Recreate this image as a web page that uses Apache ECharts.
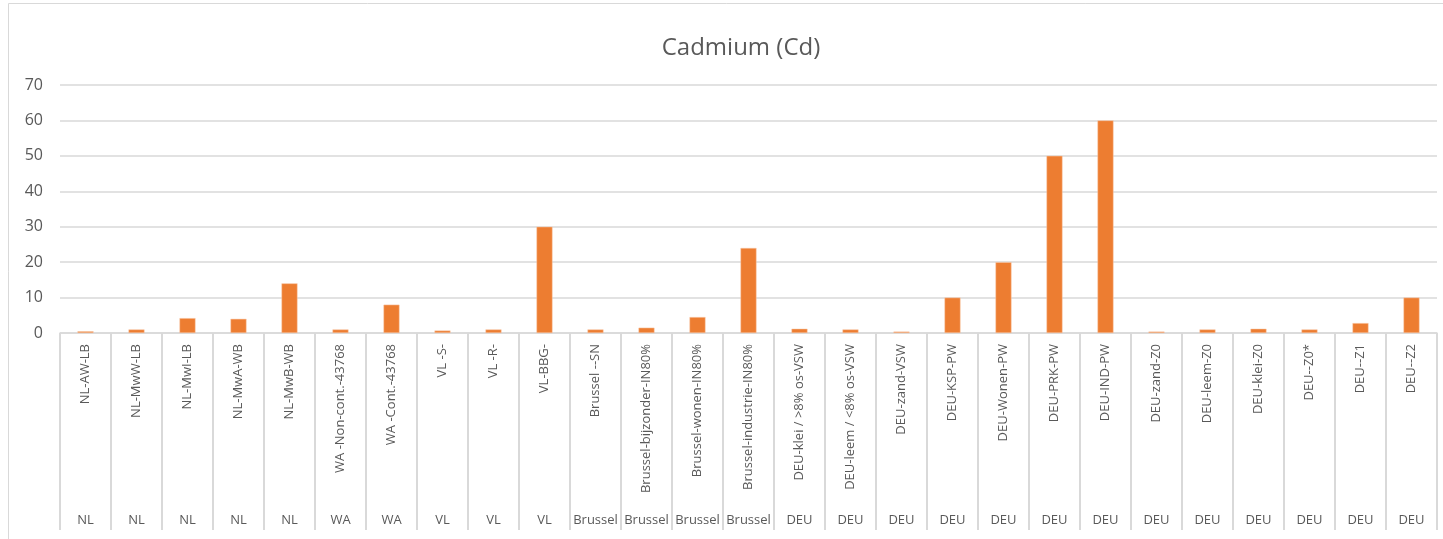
<!DOCTYPE html>
<html>
<head>
<meta charset="utf-8">
<title>Cadmium (Cd)</title>
<script src="https://cdn.jsdelivr.net/npm/echarts@6/dist/echarts.min.js"></script>
<style>
  html, body { margin: 0; padding: 0; background: #fff; }
  #chart { width: 1443px; height: 539px; }
</style>
</head>
<body>
<div id="chart"></div>
<script>
// categorieën (onderste rij = land / regio)
const categories = [
  'NL-AW-LB', 'NL-MwW-LB', 'NL-MwI-LB', 'NL-MwA-WB', 'NL-MwB-WB',
  'WA -Non-cont.-43768', 'WA -Cont.-43768', 'VL -S-', 'VL -R-', 'VL-BBG-',
  'Brussel --SN', 'Brussel-bijzonder-IN80%', 'Brussel-wonen-IN80%', 'Brussel-industrie-IN80%',
  'DEU-klei / >8% os-VSW', 'DEU-leem / <8% os-VSW', 'DEU-zand-VSW',
  'DEU-KSP-PW', 'DEU-Wonen-PW', 'DEU-PRK-PW', 'DEU-IND-PW',
  'DEU-zand-Z0', 'DEU-leem-Z0', 'DEU-klei-Z0', 'DEU--Z0*', 'DEU--Z1', 'DEU--Z2'
]
const groups = [
  'NL', 'NL', 'NL', 'NL', 'NL',
  'WA', 'WA', 'VL', 'VL', 'VL',
  'Brussel', 'Brussel', 'Brussel', 'Brussel',
  'DEU', 'DEU', 'DEU', 'DEU', 'DEU', 'DEU', 'DEU',
  'DEU', 'DEU', 'DEU', 'DEU', 'DEU', 'DEU'
]
const cdValues = [
  0.5, 1, 4.2, 4, 14,
  1, 8, 0.7, 1, 30,
  1, 1.5, 4.5, 24,
  1.2, 1, 0.4, 10, 20, 50, 60,
  0.4, 1, 1.2, 1, 2.8, 10
]
const yTicks = { min: 0, max: 70, interval: 10 }

const textColor = '#595959'
const lineColor = '#d9d9d9'
const fontFam = '"Open Sans", sans-serif'

const chart = echarts.init(document.getElementById('chart'))

const option = {
  backgroundColor: '#fff',
  animation: false,
  title: {
    text: 'Cadmium (Cd)',
    left: 736,
    top: 31,
    textAlign: 'center',
    textStyle: { color: textColor, fontSize: 24, fontWeight: 'normal', fontFamily: fontFam }
  },
  // kader om de grafiek
  graphic: [
    {
      type: 'rect',
      shape: { x: 8.5, y: 3.5, width: 1500, height: 600 },
      style: { fill: 'none', stroke: lineColor, lineWidth: 1 },
      silent: true
    }
  ],
  grid: { left: 60, right: 6, top: 85, bottom: 206, containLabel: false },
  xAxis: [
    {
      type: 'category',
      data: categories,
      axisLine: { lineStyle: { color: lineColor, width: 1.5 } },
      axisTick: { show: true, length: 197, interval: 0, lineStyle: { color: lineColor, width: 2 } },
      axisLabel: {
        interval: 0,
        rotate: 90,
        margin: 11,
        color: textColor,
        fontSize: 13,
        fontFamily: fontFam
      }
    },
    {
      type: 'category',
      data: groups,
      position: 'bottom',
      axisLine: { show: false },
      axisTick: { show: false },
      axisLabel: {
        interval: 0,
        margin: 181,
        color: textColor,
        fontSize: 13,
        fontFamily: fontFam
      }
    }
  ],
  yAxis: {
    type: 'value',
    min: yTicks.min,
    max: yTicks.max,
    interval: yTicks.interval,
    axisLine: { show: false },
    axisTick: { show: false },
    splitLine: { lineStyle: { color: lineColor, width: 1.5 } },
    axisLabel: { color: textColor, fontSize: 16, margin: 17, fontFamily: fontFam }
  },
  series: [
    {
      type: 'bar',
      xAxisIndex: 0,
      data: cdValues,
      barWidth: 16,
      itemStyle: { color: '#ED7D31', borderColor: '#f8cbad', borderWidth: 0.5 }
    }
  ]
}

chart.setOption(option)
</script>
</body>
</html>
